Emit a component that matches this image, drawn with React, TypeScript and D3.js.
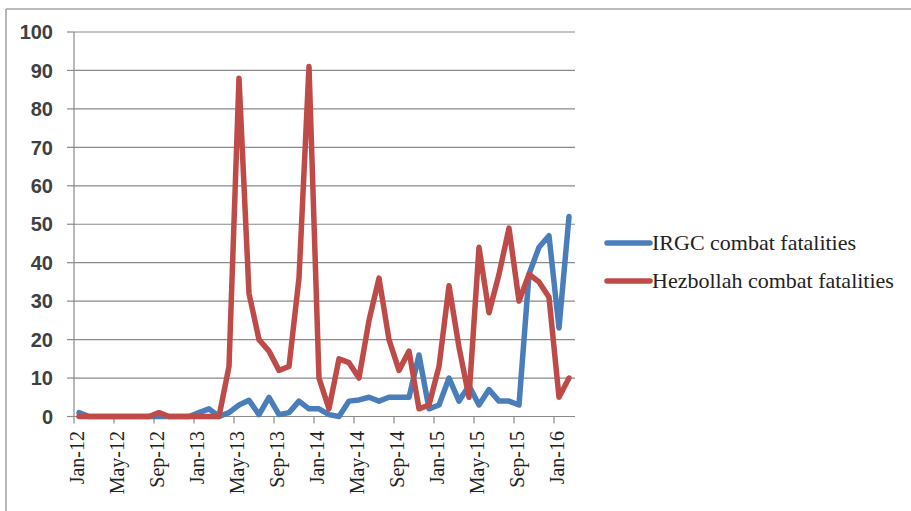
import React from "react";
import * as d3 from "d3";

const monthNames = ["Jan", "Feb", "Mar", "Apr", "May", "Jun", "Jul", "Aug", "Sep", "Oct", "Nov", "Dec"];
const months: string[] = [];
for (let y = 12; y <= 16; y++) {
  for (let m = 0; m < 12; m++) {
    if (y === 16 && m > 1) break;
    months.push(`${monthNames[m]}-${y}`);
  }
}

const irgc = [
  1, 0, 0, 0, 0, 0, 0, 0, 0, 0, 0, 0,
  1, 2, 0, 1, 3, 4.2, 0.5, 5, 0.5, 1, 4, 2,
  2, 0.5, 0, 4, 4.3, 5, 4, 5, 5, 5, 16, 2,
  3, 10, 4, 8, 3, 7, 4, 4, 3, 37, 44, 47,
  23, 52,
];

const hezbollah = [
  0, 0, 0, 0, 0, 0, 0, 0, 1, 0, 0, 0,
  0, 0, 0, 13, 88, 32, 20, 17, 12, 13, 36, 91,
  10, 2, 15, 14, 10, 25, 36, 20, 12, 17, 2, 3,
  13, 34, 18, 5, 44, 27, 37, 49, 30, 37, 35, 31,
  5, 10,
];

const yTicks = [0, 10, 20, 30, 40, 50, 60, 70, 80, 90, 100];
const seriesNames = ["IRGC combat fatalities", "Hezbollah combat fatalities"];
const seriesColors = ["#4A7EBB", "#BE4B48"];

export default function App() {
  const W = 911;
  const H = 511;
  const x = d3.scaleLinear().domain([0, months.length]).range([74, 574]);
  const y = d3.scaleLinear().domain([0, 100]).range([416.5, 32]);
  const line = d3
    .line<number>()
    .x((_, i) => x(i + 0.5))
    .y((d) => y(d));
  const tickIdx = d3.range(0, months.length, 4);
  const serif = "'Liberation Serif', 'Times New Roman', serif";
  const gridColor = "#8a8a8a";

  return (
    <svg
      width={W}
      height={H}
      style={{ position: "absolute", left: 0, top: 0, background: "#fff" }}
    >
      <rect x={0} y={0} width={W} height={H} fill="#fff" />
      {/* frame */}
      <line x1={6} x2={W} y1={9} y2={9} stroke="#a5a5a5" strokeWidth={1.6} />
      <line x1={6} x2={6} y1={9} y2={H} stroke="#a5a5a5" strokeWidth={1.6} />

      {/* gridlines + y ticks */}
      {yTicks.map((v) => (
        <g key={v}>
          <line x1={x(0)} x2={x(months.length) + 1} y1={y(v)} y2={y(v)} stroke={gridColor} strokeWidth={1.2} />
          <line x1={67} x2={x(0)} y1={y(v)} y2={y(v)} stroke={gridColor} strokeWidth={1.2} />
          <text
            x={53}
            y={y(v)}
            dy="0.36em"
            textAnchor="end"
            fontFamily="'Liberation Sans', Arial, sans-serif"
            fontWeight="bold"
            fontSize={20}
            fill="#404040"
          >
            {v}
          </text>
        </g>
      ))}

      {/* y axis */}
      <line x1={x(0)} x2={x(0)} y1={y(100)} y2={y(0)} stroke={gridColor} strokeWidth={1.2} />

      {/* x ticks and labels */}
      {tickIdx.map((i) => (
        <g key={i}>
          <line x1={x(i)} x2={x(i)} y1={y(0)} y2={y(0) + 7} stroke={gridColor} strokeWidth={1.2} />
          <text
            transform={`translate(${x(i) + 3},${431}) rotate(-90)`}
            dy="0.33em"
            textAnchor="end"
            fontFamily={serif}
            fontSize={20}
            fill="#222"
          >
            {months[i]}
          </text>
        </g>
      ))}

      {/* series */}
      {[irgc, hezbollah].map((s, k) => (
        <path
          key={k}
          d={line(s) || ""}
          fill="none"
          stroke={seriesColors[k]}
          strokeWidth={5.5}
          strokeLinejoin="round"
          strokeLinecap="round"
        />
      ))}

      {/* legend */}
      {seriesNames.map((name, k) => {
        const ly = 243 + k * 38;
        return (
          <g key={name}>
            <line x1={607} x2={650} y1={ly} y2={ly} stroke={seriesColors[k]} strokeWidth={5.5} strokeLinecap="round" />
            <text x={652} y={ly} dy="0.34em" fontFamily={serif} fontSize={22} fill="#222">
              {name}
            </text>
          </g>
        );
      })}
    </svg>
  );
}
